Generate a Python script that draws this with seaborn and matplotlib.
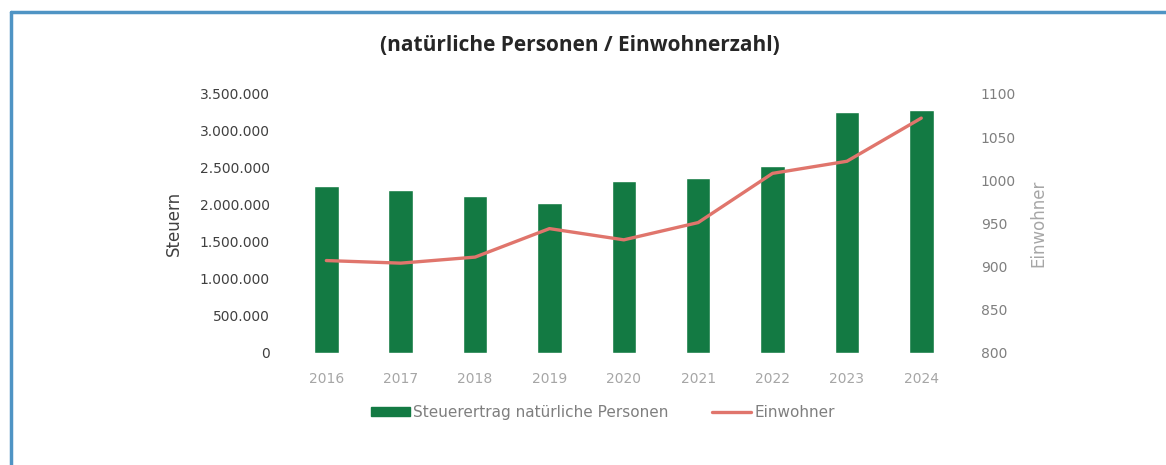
import numpy as np
import pandas as pd
import matplotlib.pyplot as plt
import seaborn as sns
from matplotlib.ticker import FuncFormatter, MultipleLocator
from matplotlib.patches import Patch
from matplotlib.lines import Line2D

years = ["2016", "2017", "2018", "2019", "2020", "2021", "2022", "2023", "2024"]
steuerertrag = [2255000, 2200000, 2120000, 2020000, 2320000, 2370000, 2530000, 3250000, 3280000]
einwohner = [907, 904, 911, 944, 931, 951, 1008, 1022, 1072]

GREEN = "#137A43"
RED = "#E0756C"
GREY = "#7F7F7F"
LIGHT = "#A6A6A6"

sns.set_theme(style="white")
plt.rcParams["font.family"] = ["DejaVu Sans"]

df = pd.DataFrame({"Jahr": years, "Steuern": steuerertrag, "Einwohner": einwohner})
df["pos"] = np.arange(len(df))

fig = plt.figure(figsize=(11.66, 4.65), dpi=100)
ax = fig.add_axes([0.248, 0.241, 0.574, 0.557])

sns.barplot(data=df, x="Jahr", y="Steuern", color=GREEN, width=0.33,
            saturation=1, ax=ax)
ax.set_ylim(0, 3500000)
ax.yaxis.set_major_locator(MultipleLocator(500000))
ax.yaxis.set_major_formatter(FuncFormatter(lambda v, _: f"{int(v):,}".replace(",", ".")))
ax.set_xlabel("")
ax.set_ylabel("Steuern", fontsize=12, color="#404040", labelpad=12)
ax.tick_params(axis="y", labelsize=10, colors="#404040", length=0, pad=14)
ax.tick_params(axis="x", labelsize=10, colors=LIGHT, length=0, pad=14)

ax2 = ax.twinx()
sns.lineplot(data=df, x="pos", y="Einwohner", color=RED, lw=2.4, ax=ax2)
ax2.set_ylim(800, 1100)
ax2.yaxis.set_major_locator(MultipleLocator(50))
ax2.set_ylabel("Einwohner", fontsize=12, color=LIGHT, labelpad=10)
ax2.tick_params(axis="y", labelsize=10, colors=GREY, length=0, pad=16)
ax.set_xlim(-0.5, len(years) - 0.5)

for a in (ax, ax2):
    for s in a.spines.values():
        s.set_visible(False)
    a.grid(False)

fig.text(0.497, 0.902, "(natürliche Personen / Einwohnerzahl)", ha="center", va="center",
         fontsize=15, fontweight="bold", color="#262626", family=["Open Sans", "DejaVu Sans"])

handles = [Patch(color=GREEN, label="Steuerertrag natürliche Personen"),
           Line2D([], [], color=RED, lw=2.4, label="Einwohner")]
fig.legend(handles=handles, loc="center", bbox_to_anchor=(0.517, 0.113), ncol=2,
           frameon=False, fontsize=11, labelcolor=GREY, columnspacing=2.8,
           handlelength=2.6, handleheight=0.55, handletextpad=0.2)

# blue frame around the chart
fig.add_artist(Line2D([0.0095, 1.0], [0.974, 0.974], color="#4F94C4", lw=2.5,
                      transform=fig.transFigure))
fig.add_artist(Line2D([0.0095, 0.0095], [0.0, 0.974], color="#4F94C4", lw=2.5,
                      transform=fig.transFigure))

fig.savefig("out.png", dpi=100)
